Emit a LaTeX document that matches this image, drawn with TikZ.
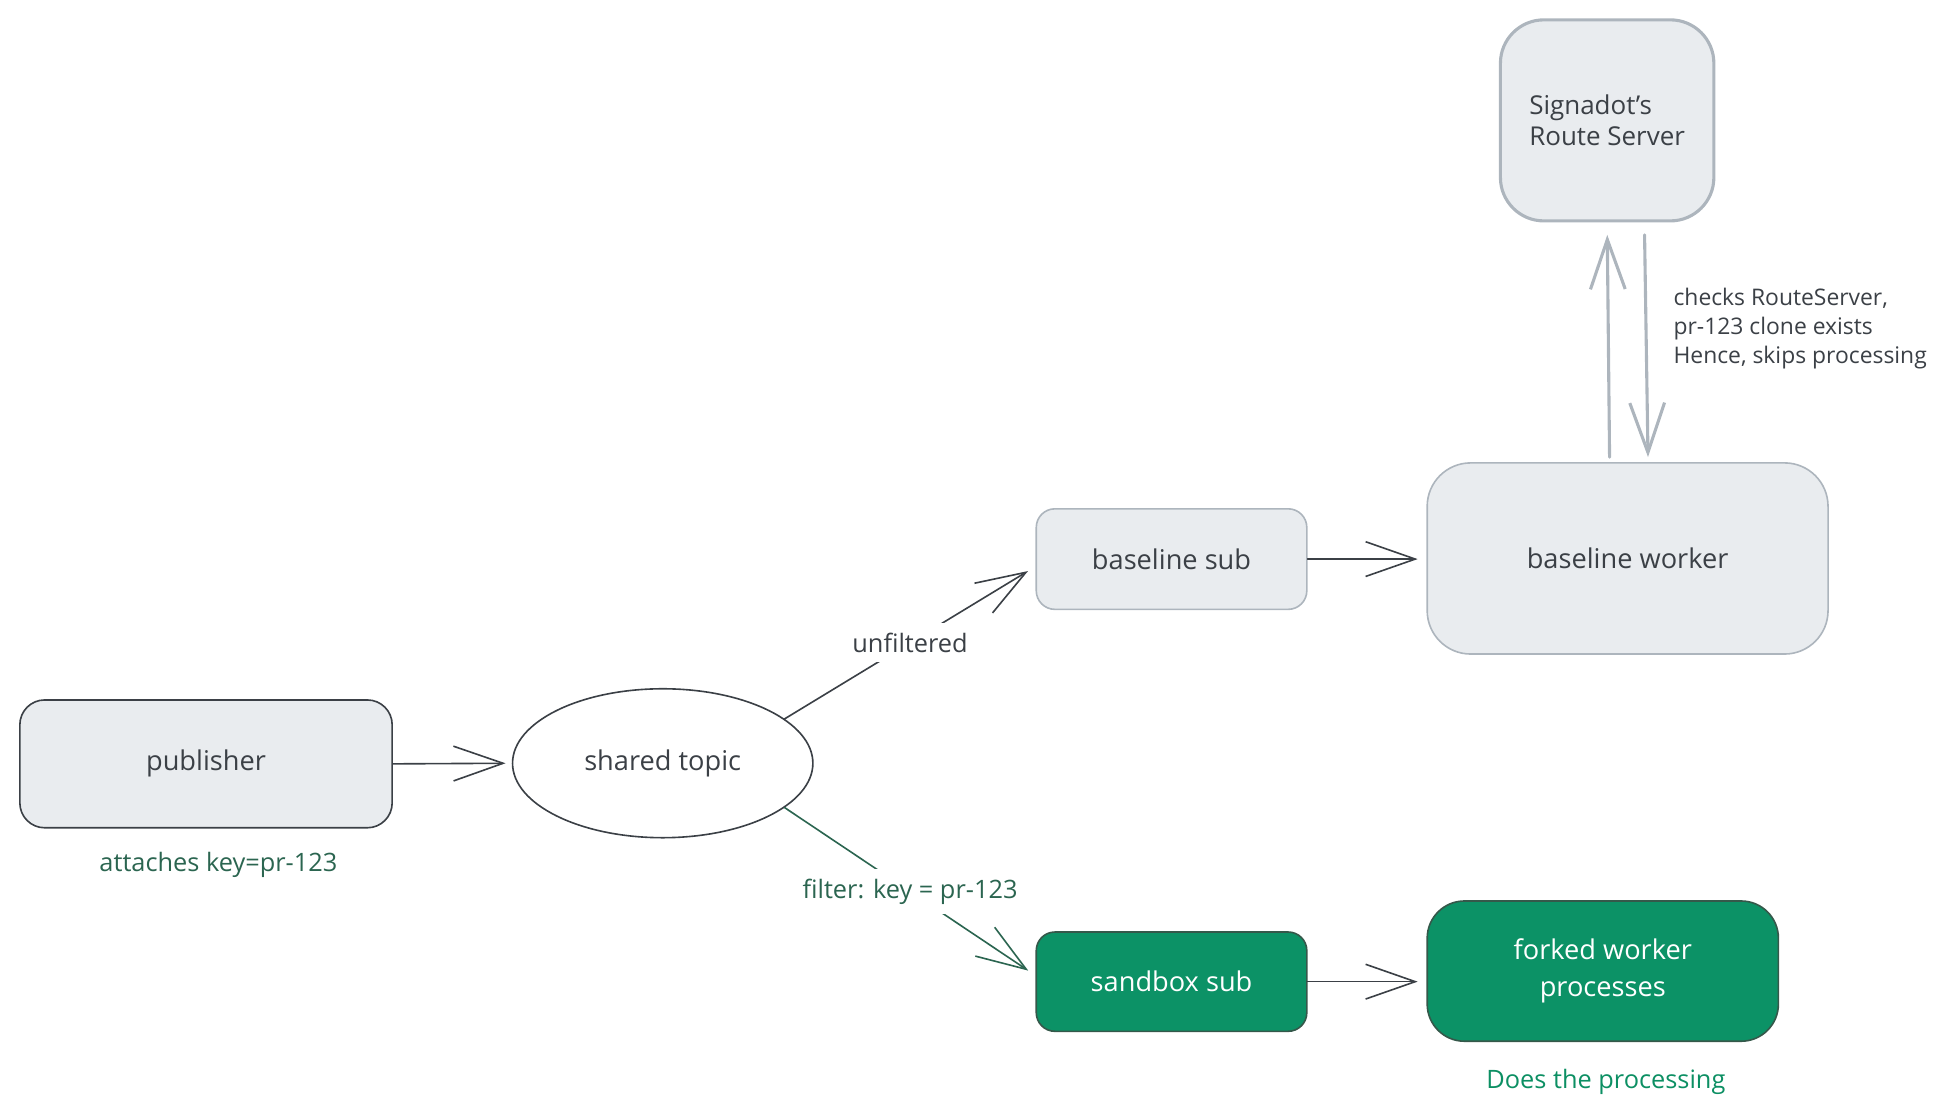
\documentclass[tikz,border=0pt]{standalone}
\usepackage{fontspec}
\setmainfont{Open Sans}
\usetikzlibrary{arrows.meta,shapes.geometric}
\definecolor{boxgray}{HTML}{E9ECEF}
\definecolor{inkdark}{HTML}{3B4046}
\definecolor{linegray}{HTML}{ADB5BD}
\definecolor{forkgreen}{HTML}{0C9266}
\definecolor{forkedge}{HTML}{35584A}
\definecolor{labgreen}{HTML}{2B6550}
\definecolor{notegreen}{HTML}{0C8F63}
\newcommand\boxfont{\fontsize{22}{30}\selectfont}
\newcommand\notefont{\fontsize{20.5}{25}\selectfont}
\tikzset{
	greybox/.style={draw=linegray, fill=boxgray, line width=1.3bp, text=inkdark, inner sep=0pt, font=\boxfont},
	greenbox/.style={draw=forkedge, fill=forkgreen, line width=1.3bp, text=white, inner sep=0pt, font=\boxfont, align=center},
	onlabel/.style={fill=white, inner xsep=2bp, inner ysep=8bp, font=\notefont}
}
\begin{document}
\begin{tikzpicture}[x=1bp, y=-1bp, line join=round, line cap=round, >={Straight Barb[length=40bp,width=28bp]}]
	\useasboundingbox (0,0) rectangle (1560,895);
	\node[greybox, draw=inkdark, minimum width=300bp, minimum height=103bp, rounded corners=20bp] (pub) at (166,615.5) {publisher};
	\node[draw=inkdark, line width=1.3bp, ellipse, minimum width=242bp, minimum height=120bp, inner sep=0pt, text=inkdark, font=\boxfont] (st) at (534,615) {shared topic};
	\node[greybox, minimum width=218bp, minimum height=81bp, rounded corners=15bp] (bs) at (944,450.5) {baseline sub};
	\node[greenbox, minimum width=218bp, minimum height=80bp, rounded corners=15bp] (ss) at (944,791) {sandbox sub};
	\node[greybox, minimum width=323bp, minimum height=154bp, rounded corners=35bp] (bw) at (1311.5,450) {baseline worker};
	\node[greenbox, minimum width=283bp, minimum height=113bp, rounded corners=30bp] (fw) at (1291.5,782.5) {forked worker\\processes};
	\node[greybox, line width=2.5bp, minimum width=172bp, minimum height=162bp, rounded corners=35bp, align=left, font=\fontsize{21}{25}\selectfont] (rs) at (1295,97) {Signadot's\\Route Server};
	% notes
	\node[text=labgreen, font=\notefont] (pubnote) at (176,697) {attaches key=pr-123};
	\node[text=notegreen, font=\notefont] (fwnote) at (1294,872) {Does the processing};
	\node[text=inkdark, anchor=west, align=left, font=\fontsize{18.5}{23.5}\selectfont] (rsnote) at (1345,264.5) {checks RouteServer,\\pr-123 clone exists\\Hence, skips processing};
	% arrows
	\draw[->, inkdark, line width=1.3bp, shorten >=5bp] (pub.east) -- (st.west);
	\draw[->, inkdark, line width=1.3bp, shorten >=7bp] (st.20) -- node[onlabel, text=inkdark] {unfiltered} ([yshift=-6bp]bs.west);
	\draw[->, labgreen, line width=1.3bp, shorten >=7bp] (st.-20) -- node[onlabel, text=labgreen] {filter: key = pr-123} ([yshift=5bp]ss.west);
	\foreach \from/\to in {bs/bw, ss/fw}
	\draw[->, inkdark, line width=1.3bp, shorten >=7bp] (\from.east) -- (\from.east -| \to.west);
	\draw[->, linegray, line width=2.5bp, shorten <=4bp, shorten >=10bp] ([xshift=-14.5bp]bw.north) -- (rs.south);
	\draw[->, linegray, line width=2.5bp, shorten <=10bp, shorten >=4bp] ([xshift=30bp]rs.south) -- ([xshift=16.5bp]bw.north);
\end{tikzpicture}
\end{document}
